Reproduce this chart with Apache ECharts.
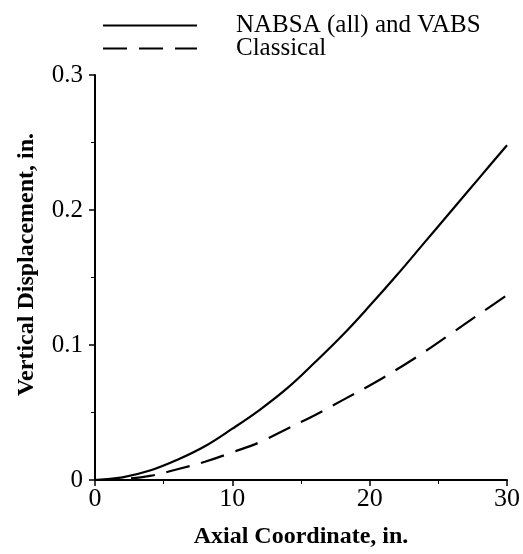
<!DOCTYPE html>
<html>
<head>
<meta charset="utf-8">
<script src="https://cdn.jsdelivr.net/npm/echarts@6/dist/echarts.min.js"></script>
<style>
  html, body { margin: 0; padding: 0; background: #fff; }
  #chart-container { width: 523px; height: 554px; }
</style>
</head>
<body>
<div id="chart-container"></div>
<script>
// axial coordinate (in.)
var xs = [0, 2, 4, 6, 8, 10, 12, 14, 16, 18, 20, 22, 24, 26, 28, 30];
// vertical displacement (in.)
var nabsa = [0, 0.002, 0.007, 0.015, 0.025, 0.038, 0.052, 0.068, 0.087, 0.107, 0.129, 0.152, 0.176, 0.200, 0.224, 0.248];
var classical = [0, 0.0008, 0.003, 0.008, 0.0135, 0.0205, 0.028, 0.038, 0.048, 0.059, 0.070, 0.082, 0.095, 0.109, 0.123, 0.137];
var seriesNames = ['NABSA (all) and VABS', 'Classical'];

function pairs(ys) {
    return xs.map(function (x, i) { return [x, ys[i]]; });
}

var dom = document.getElementById('chart-container');
var myChart = echarts.init(dom, null, { renderer: 'canvas' });

var serif = '"Liberation Serif", "DejaVu Serif", serif';

var option = {
    animation: false,
    backgroundColor: '#fff',
    textStyle: { fontFamily: serif, color: '#000' },
    legend: {
        orient: 'vertical',
        left: 97,
        top: 8,
        itemWidth: 94,
        itemHeight: 16,
        itemGap: -2,
        data: seriesNames,
        itemStyle: { opacity: 0 },
        textStyle: {
            fontFamily: serif,
            fontSize: 25,
            color: '#000',
            padding: [0, 0, 0, 34]
        }
    },
    grid: {
        left: 95,
        right: 16,
        top: 75,
        bottom: 73
    },
    xAxis: {
        type: 'value',
        min: 0,
        max: 30,
        interval: 10,
        name: 'Axial Coordinate, in.',
        nameLocation: 'middle',
        nameGap: 45,
        nameTextStyle: { fontFamily: serif, fontSize: 24, fontWeight: 'bold', color: '#000' },
        axisLine: { lineStyle: { color: '#000', width: 2 } },
        axisTick: { length: 6, lineStyle: { color: '#000', width: 1.5 } },
        minorTick: { show: true, splitNumber: 2, length: 4, lineStyle: { color: '#000' } },
        axisLabel: { fontFamily: serif, fontSize: 26, color: '#000', margin: 6 },
        splitLine: { show: false }
    },
    yAxis: {
        type: 'value',
        min: 0,
        max: 0.3,
        interval: 0.1,
        name: 'Vertical Displacement, in.',
        nameLocation: 'middle',
        nameGap: 56,
        nameTextStyle: { fontFamily: serif, fontSize: 24, fontWeight: 'bold', color: '#000', padding: [0, 0, 0, 26] },
        axisLine: { lineStyle: { color: '#000', width: 2 } },
        axisTick: { length: 6, lineStyle: { color: '#000', width: 1.5 } },
        minorTick: { show: true, splitNumber: 2, length: 4, lineStyle: { color: '#000' } },
        axisLabel: {
            fontFamily: serif,
            fontSize: 25,
            color: '#000',
            margin: 12,
            formatter: function (v) { return v === 0 ? '0' : v.toFixed(1); }
        },
        splitLine: { show: false }
    },
    series: [
        {
            name: seriesNames[0],
            type: 'line',
            smooth: 0.4,
            showSymbol: false,
            symbol: 'none',
            data: pairs(nabsa),
            lineStyle: { color: '#000', width: 2.2, type: 'solid' },
            itemStyle: { color: '#000' }
        },
        {
            name: seriesNames[1],
            type: 'line',
            smooth: 0.4,
            showSymbol: false,
            symbol: 'none',
            data: pairs(classical),
            lineStyle: { color: '#000', width: 2.2, type: [24, 12] },
            itemStyle: { color: '#000' }
        }
    ]
};

if (option && typeof option === 'object') {
    myChart.setOption(option);
}

window.addEventListener('resize', myChart.resize);
</script>
</body>
</html>
